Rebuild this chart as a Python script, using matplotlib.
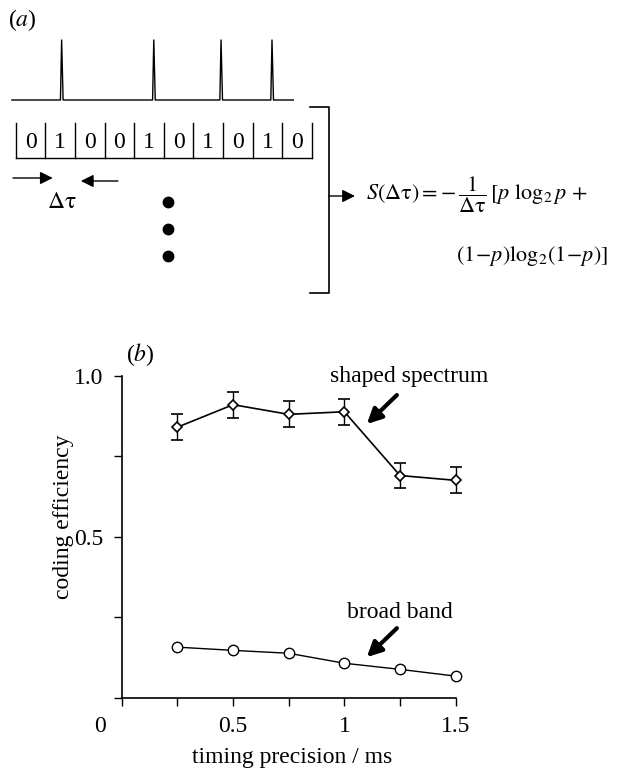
import numpy as np
import matplotlib
matplotlib.use('Agg')
import matplotlib.pyplot as plt

plt.rcParams['font.family'] = ['Liberation Serif', 'DejaVu Serif']
plt.rcParams['mathtext.fontset'] = 'stix'

# panel (a): spike train and its binary word
bits = [0, 1, 0, 0, 1, 0, 1, 0, 1, 0]
spike_times = [1.56, 4.67, 6.94, 8.66]   # in bin units

# panel (b): coding efficiency vs timing precision
precision = [0.25, 0.5, 0.75, 1.0, 1.25, 1.5]
shaped = [0.84, 0.91, 0.88, 0.888, 0.69, 0.675]
shaped_err = [0.04, 0.04, 0.04, 0.04, 0.04, 0.04]
broad = [0.157, 0.147, 0.138, 0.107, 0.088, 0.067]

W, H = 620, 774
fig = plt.figure(figsize=(W / 100, H / 100), dpi=100)

def fx(px):
    return px / W

def fy(py):
    return 1 - py / H

# ---------- panel (a) ----------
ax_a = fig.add_axes([0, fy(310), 1, 310 / H])
bw = 29.63
x0 = 15.7
ax_a.set_xlim(-x0 / bw, (W - x0) / bw)
ax_a.set_ylim(310, 0)
ax_a.axis('off')

base, top = 100, 40
xs = [-0.13]
ys = [base]
for t in spike_times:
    xs += [t - 0.05, t - 0.01, t + 0.04]
    ys += [base, top, base]
xs.append(9.37)
ys.append(base)
ax_a.plot(xs, ys, color='k', lw=1.0)

nb = len(bits)
for i in range(nb + 1):
    ax_a.plot([i, i], [123, 158], color='k', lw=1.0)
ax_a.plot([0, nb], [158, 158], color='k', lw=1.0)
for i, b in enumerate(bits):
    ax_a.text(i + 0.5, 143, str(b), ha='center', va='center', fontsize=17)

arr_small = dict(arrowstyle='-|>', color='k', lw=1.0,
                 mutation_scale=19, shrinkA=0, shrinkB=0)
ax_a.annotate('', xy=(1.25, 178), xytext=(-0.09, 178), arrowprops=arr_small)
ax_a.annotate('', xy=(2.2, 181), xytext=(3.45, 181), arrowprops=arr_small)
ax_a.text(1.56, 203, r'$\Delta\mathrm{\tau}$', ha='center', va='center', fontsize=17)

ax_a.plot([5.14, 5.14, 5.14], [202, 229, 256], 'o', color='k', ms=7.5)

# bracket
bx = 10.57
ax_a.plot([9.93, bx, bx, 9.93], [107, 107, 293, 293], color='k', lw=1.2)
ax_a.annotate('', xy=(11.45, 196), xytext=(bx, 196), arrowprops=arr_small)

ax_a.text(11.82, 195,
          r'$S(\Delta\mathrm{\tau}) = -\,\dfrac{1}{\Delta\mathrm{\tau}}\,[p\ \mathrm{log}_2\,p\ {+}$',
          ha='left', va='center', fontsize=16)
ax_a.text(14.86, 256, r'$(1\!-\!p)\mathrm{log}_2(1\!-\!p)]$',
          ha='left', va='center', fontsize=16)
ax_a.text(-0.25, 20, r'($a$)', ha='left', va='center', fontsize=17)

# ---------- panel (b) ----------
left, right = 121.7, 455.7
ytop, ybot = 375.7, 697.7
ax = fig.add_axes([fx(left), fy(ybot), (right - left) / W, (ybot - ytop) / H])
ax.set_xlim(0, 1.5)
ax.set_ylim(0, 1.0)
ax.patch.set_alpha(0)
for s in ['top', 'right']:
    ax.spines[s].set_visible(False)
for s in ['left', 'bottom']:
    ax.spines[s].set_linewidth(1.2)

ax.errorbar(precision, shaped, yerr=shaped_err, color='k', lw=1.2,
            marker='D', ms=5.5, mfc='white', mec='k', mew=1.2,
            capsize=4, elinewidth=1.0, capthick=1.0, clip_on=False, zorder=3)
ax.plot(precision, broad, color='k', lw=1.0, marker='o', ms=7.5,
        mfc='white', mec='k', mew=1.0, clip_on=False, zorder=3)

ax.set_xticks([0, 0.5, 1.0, 1.5])
ax.set_xticklabels(['', '0.5', '1', '1.5'])
ax.set_xticks([0.25, 0.75, 1.25], minor=True)
ax.set_yticks([0, 0.5, 1.0])
ax.set_yticklabels(['', '0.5', '1.0'])
ax.set_yticks([0.25, 0.75], minor=True)
ax.tick_params(which='both', direction='out', length=6, width=1.0,
               labelsize=17, pad=7)

fig.text(fx(100), fy(726), '0', ha='center', va='center', fontsize=17)
fig.text(fx(292), fy(758), 'timing precision / ms', ha='center', va='center', fontsize=17)
fig.text(fx(63), fy(517), 'coding efficiency', ha='center', va='center',
         rotation=90, fontsize=17)
fig.text(fx(140), fy(355), r'($b$)', ha='center', va='center', fontsize=17)

ax.text(0.936, 0.996, 'shaped spectrum', ha='left', va='center', fontsize=17)
ax.text(1.012, 0.266, 'broad band', ha='left', va='center', fontsize=17)
arrow_kw = dict(arrowstyle='-|>', color='k', lw=3, mutation_scale=22,
                shrinkA=0, shrinkB=0)
ax.annotate('', xy=(1.101, 0.85), xytext=(1.236, 0.94), arrowprops=arrow_kw,
            annotation_clip=False)
ax.annotate('', xy=(1.101, 0.126), xytext=(1.236, 0.216), arrowprops=arrow_kw,
            annotation_clip=False)

fig.savefig('out.png', dpi=100)
